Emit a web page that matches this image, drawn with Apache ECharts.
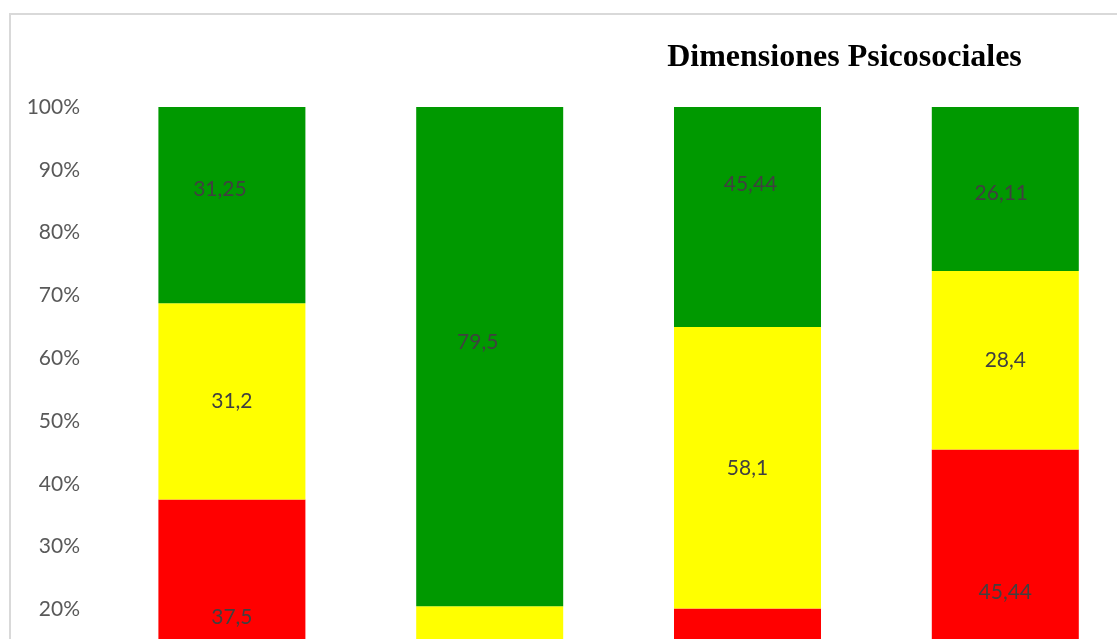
<!DOCTYPE html>
<html>
<head>
<meta charset="utf-8">
<script src="https://cdn.jsdelivr.net/npm/echarts@6/dist/echarts.min.js"></script>
<style>
html,body{margin:0;padding:0;overflow:hidden;background:#fff;width:1117px;height:639px;}
#chart{width:1200px;height:820px;}
</style>
</head>
<body>
<div id="chart"></div>
<script>
var categories = ['D1', 'D2', 'D3', 'D4'];
var seriesNames = ['Alto', 'Medio', 'Bajo'];
var redValues = [37.5, 6.0, 26.11, 45.44];
var yellowValues = [31.2, 14.5, 58.1, 28.4];
var greenValues = [31.25, 79.5, 45.44, 26.11];
var yTickLabels = ['0%','10%','20%','30%','40%','50%','60%','70%','80%','90%','100%'];

var totals = categories.map(function (c, i) { return redValues[i] + yellowValues[i] + greenValues[i]; });
function fmt(v) { return String(v).replace('.', ','); }

// label nudges (styling only) for the green segment labels, as in the reference
var greenLabelOffsets = [[-12, -16], [-12, -14], [3, -33], [-4, 4]];

function buildData(values, offsets) {
  return values.map(function (v, i) {
    var item = { value: v / totals[i] * 100, raw: v };
    if (offsets) item.label = { offset: offsets[i] };
    return item;
  });
}

var colors = ['#FF0000', '#FFFF00', '#009900'];
var valueSets = [redValues, yellowValues, greenValues];

var chart = echarts.init(document.getElementById('chart'), null, { renderer: 'canvas' });
var labelFont = { color: '#404040', fontFamily: 'Lato', fontSize: 21 };

var series = valueSets.map(function (vals, k) {
  return {
    name: seriesNames[k],
    type: 'bar',
    stack: 'total',
    barWidth: 147,
    data: buildData(vals, k === 2 ? greenLabelOffsets : null),
    itemStyle: { color: colors[k] },
    label: Object.assign({
      show: true,
      position: 'inside',
      formatter: function (p) { return fmt(p.data.raw); }
    }, labelFont),
    emphasis: { disabled: true },
    animation: false
  };
});

chart.setOption({
  animation: false,
  backgroundColor: '#ffffff',
  grid: { left: 103, top: 107, width: 1031.2, height: 628, containLabel: false },
  xAxis: {
    type: 'category',
    data: categories,
    axisLine: { show: false },
    axisTick: { show: false },
    axisLabel: { show: false },
    splitLine: { show: false }
  },
  yAxis: {
    type: 'value',
    min: 0,
    max: 100,
    interval: 10,
    axisLine: { show: false },
    axisTick: { show: false },
    splitLine: { show: false },
    axisLabel: {
      margin: 23,
      color: '#595959',
      fontFamily: 'Lato',
      fontSize: 21,
      formatter: function (v) { return yTickLabels[Math.round(v / 10)]; }
    }
  },
  graphic: [
    {
      type: 'rect',
      shape: { x: 10, y: 14, width: 1300, height: 900 },
      style: { fill: 'none', stroke: '#d9d9d9', lineWidth: 2 },
      silent: true,
      z: -10
    },
    {
      type: 'text',
      x: 844.5,
      y: 58,
      style: {
        text: 'Dimensiones Psicosociales',
        fill: '#000000',
        font: 'bold 32px "Liberation Serif", "Times New Roman", serif',
        textAlign: 'center',
        textVerticalAlign: 'middle'
      },
      silent: true
    }
  ],
  series: series
});
</script>
</body>
</html>
